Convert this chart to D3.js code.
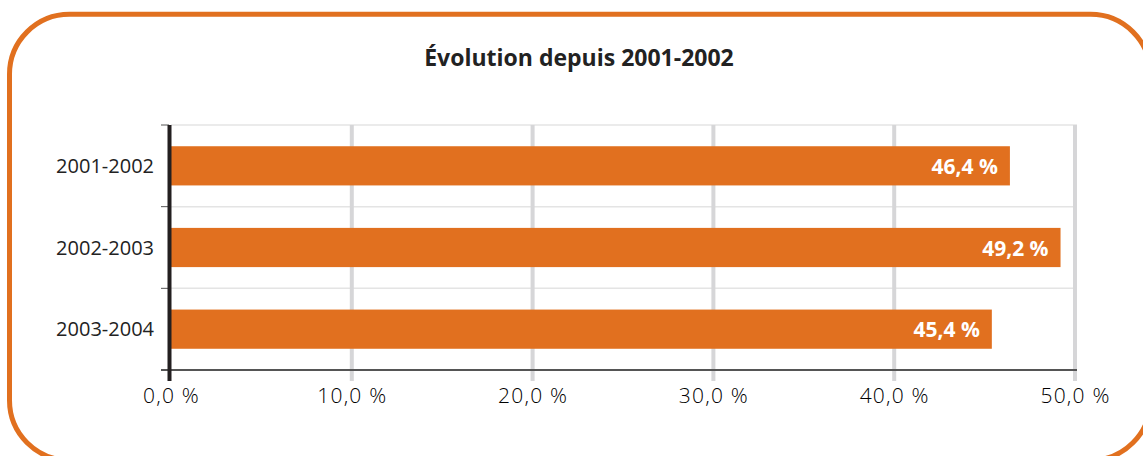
<!DOCTYPE html>
<html>
<head>
<meta charset="utf-8">
<script src="https://cdn.jsdelivr.net/npm/d3@7"></script>
<style>
  body { margin: 0; background: #ffffff; }
  svg { display: block; }
</style>
</head>
<body>
<div id="viz-container"></div>
<script>
let w = 1143;
let h = 456;

// data
const periods = ["2001-2002", "2002-2003", "2003-2004"];
const rates = [46.4, 49.2, 45.4];
const xTicks = [0, 10, 20, 30, 40, 50];
const title = "Évolution depuis 2001-2002";

const orange = "#e1701f";
const fr = d3.formatLocale({ decimal: ",", thousands: " ", grouping: [3], currency: ["", " €"] });
const fmt = v => fr.format(".1f")(v) + " %";

let viz = d3.select("#viz-container")
  .append("svg")
  .attr("width", w)
  .attr("height", h)
  .style("background-color", "#ffffff");

// rounded orange frame (runs off the right and bottom edges)
viz.append("rect")
  .attr("x", 9.5)
  .attr("y", 14.3)
  .attr("width", 1141)
  .attr("height", 446)
  .attr("rx", 60)
  .attr("ry", 60)
  .attr("fill", "none")
  .attr("stroke", orange)
  .attr("stroke-width", 5);

viz.append("text")
  .text(title)
  .attr("x", 579)
  .attr("y", 66)
  .attr("text-anchor", "middle")
  .attr("font-family", "Open Sans")
  .attr("font-weight", 700)
  .attr("font-size", 23)
  .attr("fill", "#222");

let x = d3.scaleLinear().domain([0, 50]).range([171, 1075]);
let y = d3.scaleBand().domain(periods).range([125, 370]).paddingInner(0.52).paddingOuter(0.26);

let plotTop = 125, plotBottom = 370;

// horizontal band separators
let seps = [plotTop].concat(periods.slice(1).map(p => y(p) - y.step() * y.paddingInner() / 2));
viz.selectAll(".sep").data(seps).enter().append("line")
  .attr("class", "sep")
  .attr("x1", 171).attr("x2", 1077)
  .attr("y1", d => d).attr("y2", d => d)
  .attr("stroke", "#e4e4e4")
  .attr("stroke-width", 1.5);

// vertical grid
viz.selectAll(".grid").data(xTicks.slice(1)).enter().append("line")
  .attr("class", "grid")
  .attr("x1", d => x(d)).attr("x2", d => x(d))
  .attr("y1", plotTop).attr("y2", plotBottom + 11)
  .attr("stroke", "#d6d6d8")
  .attr("stroke-width", 4);

// small left ticks
let leftTicks = seps.concat([plotBottom]);
viz.selectAll(".ltick").data(leftTicks).enter().append("line")
  .attr("class", "ltick")
  .attr("x1", 161).attr("x2", 169)
  .attr("y1", d => d).attr("y2", d => d)
  .attr("stroke", "#555")
  .attr("stroke-width", 1);

// bars
viz.selectAll(".bar").data(rates).enter().append("rect")
  .attr("class", "bar")
  .attr("x", x(0))
  .attr("y", (d, i) => y(periods[i]))
  .attr("width", d => x(d) - x(0))
  .attr("height", y.bandwidth())
  .attr("fill", orange);

viz.selectAll(".val").data(rates).enter().append("text")
  .attr("class", "val")
  .text(d => fmt(d))
  .attr("x", d => x(d) - 12)
  .attr("y", (d, i) => y(periods[i]) + y.bandwidth() / 2 + 8)
  .attr("text-anchor", "end")
  .attr("font-family", "Open Sans")
  .attr("font-weight", 700)
  .attr("font-size", 21)
  .attr("fill", "#ffffff");

// bottom axis
let xAxis = d3.axisBottom(x).tickValues(xTicks).tickFormat(fmt).tickSize(0).tickPadding(18);
let gx = viz.append("g")
  .attr("transform", `translate(0,${plotBottom})`)
  .call(xAxis);
gx.select(".domain").remove();
gx.selectAll("text")
  .attr("font-family", "Open Sans")
  .attr("font-weight", 300)
  .attr("font-size", 21)
  .attr("letter-spacing", 1.2)
  .attr("fill", "#000");

viz.append("line")
  .attr("x1", 161).attr("x2", 1077)
  .attr("y1", plotBottom).attr("y2", plotBottom)
  .attr("stroke", "#555")
  .attr("stroke-width", 2);

// category labels
viz.selectAll(".cat").data(periods).enter().append("text")
  .attr("class", "cat")
  .text(d => d)
  .attr("x", 154)
  .attr("y", d => y(d) + y.bandwidth() / 2 + 7)
  .attr("text-anchor", "end")
  .attr("font-family", "Open Sans")
  .attr("font-size", 20)
  .attr("fill", "#222");

// black value axis
viz.append("line")
  .attr("x1", 169.5).attr("x2", 169.5)
  .attr("y1", plotTop).attr("y2", plotBottom + 11)
  .attr("stroke", "#231f20")
  .attr("stroke-width", 4);
</script>
</body>
</html>
